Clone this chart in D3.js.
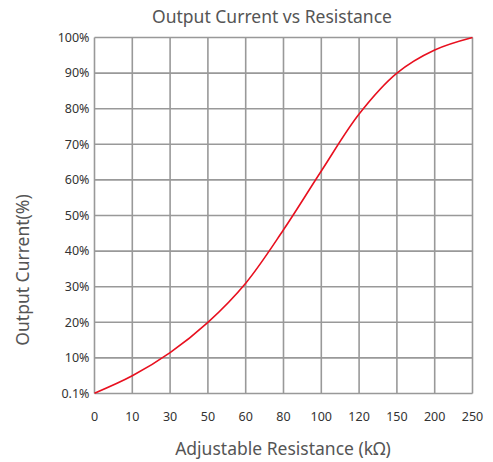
<!DOCTYPE html>
<html><head><meta charset="utf-8">
<script src="https://cdn.jsdelivr.net/npm/d3@7"></script>
<style>body{margin:0;background:#fff;}text{font-family:"Noto Sans",sans-serif;}</style>
</head><body>
<svg id="c" width="493" height="462"></svg>
<script>
const categories = ["0","10","30","50","60","80","100","120","150","200","250"];
const currentValues = [0.1, 5, 11.5, 20, 31, 46, 62.5, 78.5, 90, 96.5, 100];
const yTickValues = [0,10,20,30,40,50,60,70,80,90,100];
const yTickLabels = ["0.1%","10%","20%","30%","40%","50%","60%","70%","80%","90%","100%"];

const svg = d3.select("#c");
const L=94.5, R=472.5, T=37.5, B=393.5;
const x = d3.scalePoint().domain(categories).range([L,R]);
const y = d3.scaleLinear().domain([0,100]).range([B,T]);
const grid = "#999";

svg.append("g").selectAll("line").data(categories).join("line")
  .attr("x1",d=>x(d)).attr("x2",d=>x(d)).attr("y1",T).attr("y2",B)
  .attr("stroke",grid).attr("stroke-width",1.6);
svg.append("g").selectAll("line").data(yTickValues).join("line")
  .attr("x1",L).attr("x2",R).attr("y1",d=>y(d)).attr("y2",d=>y(d))
  .attr("stroke",grid).attr("stroke-width",1.6);

svg.append("g").selectAll("text").data(yTickValues).join("text")
  .attr("x",L-5).attr("y",d=>y(d)).attr("dy","0.35em")
  .attr("text-anchor","end").attr("font-size",12.5).attr("fill","#333")
  .text((d,i)=>yTickLabels[i]);
svg.append("g").selectAll("text").data(categories).join("text")
  .attr("x",d=>x(d)).attr("y",B+23).attr("dy","0.35em")
  .attr("text-anchor","middle").attr("font-size",12.5).attr("fill","#333")
  .text(d=>d);

const line = d3.line().x((d,i)=>x(categories[i])).y(d=>y(d)).curve(d3.curveCatmullRom.alpha(0.5));
svg.append("path").datum(currentValues).attr("d",line)
  .attr("fill","none").attr("stroke","#e8101f").attr("stroke-width",1.6);

svg.append("text").attr("x",272).attr("y",23).attr("text-anchor","middle")
  .attr("font-size",17.5).attr("fill","#555").text("Output Current vs Resistance");
svg.append("text").attr("x",283).attr("y",455).attr("text-anchor","middle")
  .attr("font-size",17.5).attr("fill","#555").text("Adjustable Resistance (kΩ)");
svg.append("text").attr("transform","translate(29,270) rotate(-90)").attr("text-anchor","middle")
  .attr("font-size",17.5).attr("fill","#555").text("Output Current(%)");
</script>
</body></html>
